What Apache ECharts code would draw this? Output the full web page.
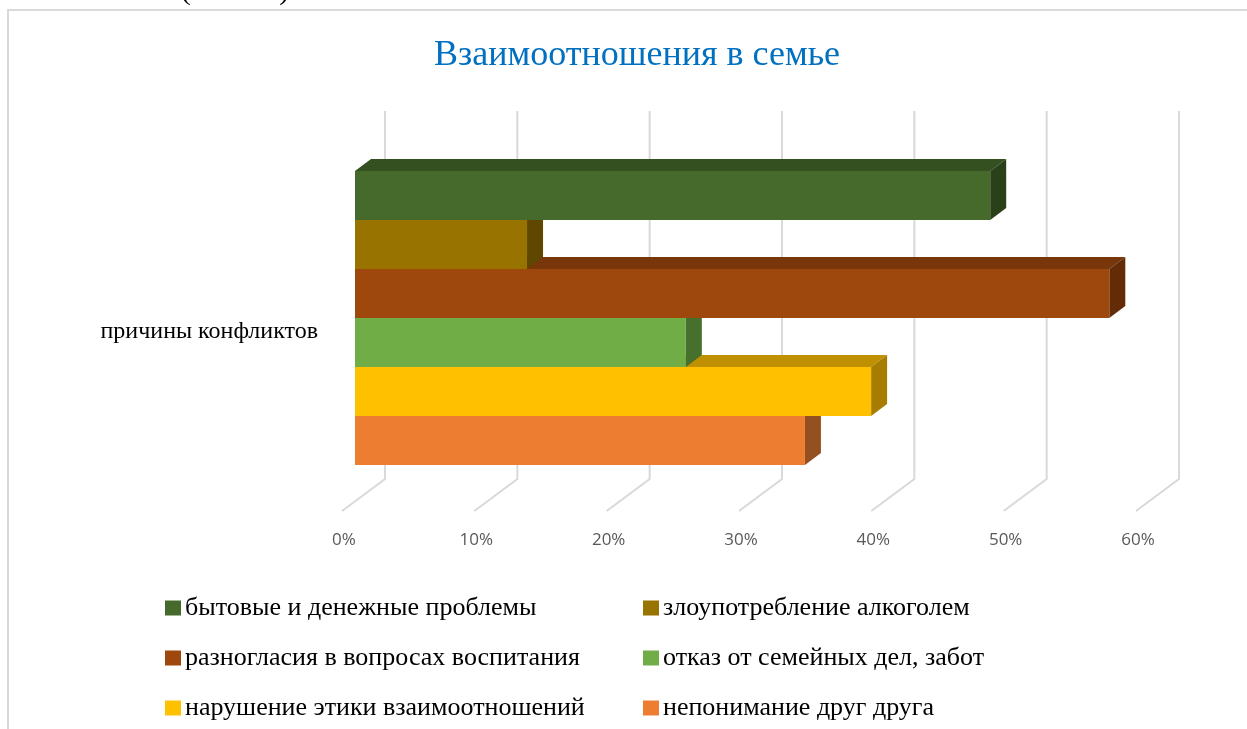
<!DOCTYPE html>
<html>
<head>
<meta charset="utf-8">
<title>Взаимоотношения в семье</title>
<style>
  html, body { margin: 0; padding: 0; background: #fff; overflow: hidden; }
  #chart { width: 1247px; height: 729px; }
</style>
<script src="https://cdn.jsdelivr.net/npm/echarts@6/dist/echarts.min.js"></script>
</head>
<body>
<div id="chart"></div>
<script>
const categories = ['причины конфликтов'];
const ticks = [0, 10, 20, 30, 40, 50, 60];

const seriesNames = [
  'бытовые и денежные проблемы',
  'злоупотребление алкоголем',
  'разногласия в вопросах воспитания',
  'отказ от семейных дел, забот',
  'нарушение этики взаимоотношений',
  'непонимание друг друга'
];
const seriesValues = [48, 13, 57, 25, 39, 34];

// front, top and side face of each bar
const frontColors = ['#466A2B', '#997300', '#9E480E', '#70AD47', '#FFC000', '#ED7D31'];
const topColors = ['#344F20', '#735600', '#78360B', '#548235', '#BF9000', '#B25E25'];
const sideColors = ['#2A4019', '#5F4700', '#632C06', '#47702C', '#A67D00', '#95501F'];

const serif = '"Liberation Serif", serif';

// 3D look, in pixels
const DEPTH_X = 16;
const DEPTH_Y = 12;
const BAR_H = 49;
const BARS_TOP = -161; // from the category centre down to the top of the first bar

const barSeries = seriesNames.map((name, i) => ({
  name: name,
  type: 'custom',
  coordinateSystem: 'cartesian2d',
  itemStyle: { color: frontColors[i] },
  encode: { x: 0, y: 1 },
  data: [[seriesValues[i], 0]],
  renderItem: (params, api) => {
    const zero = api.coord([0, api.value(1)]);
    const end = api.coord([api.value(0), api.value(1)]);
    const x0 = zero[0] + 11;
    const x1 = end[0] + 11;
    const y0 = zero[1] + BARS_TOP + i * BAR_H;
    const y1 = y0 + BAR_H;
    return {
      type: 'group',
      children: [
        {
          type: 'polygon',
          z2: 1,
          shape: { points: [[x0, y0], [x0 + DEPTH_X, y0 - DEPTH_Y], [x1 + DEPTH_X, y0 - DEPTH_Y], [x1, y0]] },
          style: { fill: topColors[i] }
        },
        {
          type: 'polygon',
          z2: 2,
          shape: { points: [[x1, y0], [x1 + DEPTH_X, y0 - DEPTH_Y], [x1 + DEPTH_X, y1 - DEPTH_Y], [x1, y1]] },
          style: { fill: sideColors[i] }
        },
        {
          type: 'rect',
          z2: 3,
          shape: { x: x0, y: y0, width: x1 - x0, height: BAR_H },
          style: { fill: frontColors[i] }
        }
      ]
    };
  }
}));

// back wall and floor lines
const wallSeries = {
  type: 'custom',
  coordinateSystem: 'cartesian2d',
  silent: true,
  z: 1,
  encode: { x: 0, y: 1 },
  data: ticks.map(t => [t, 0]),
  renderItem: (params, api) => {
    const p = api.coord([api.value(0), api.value(1)]);
    const x = p[0];
    const bottom = p[1] + 179;
    return {
      type: 'polyline',
      shape: { points: [[x + 41, p[1] - 221], [x + 41, bottom - 32], [x - 2, bottom]] },
      style: { fill: null, stroke: '#D9D9D9', lineWidth: 2 }
    };
  }
};

const legendCommon = {
  orient: 'vertical',
  top: 590,
  itemWidth: 16,
  itemHeight: 15,
  itemGap: 24,
  icon: 'rect',
  selectedMode: false,
  textStyle: { fontFamily: serif, fontSize: 26, color: '#000', padding: [0, 0, 0, -1], lineHeight: 24.5 }
};

const chart = echarts.init(document.getElementById('chart'));
chart.setOption({
  animation: false,
  backgroundColor: '#fff',
  title: {
    text: 'Взаимоотношения в семье',
    left: 632,
    textAlign: 'center',
    top: 33,
    textStyle: { fontFamily: serif, fontWeight: 'normal', fontSize: 36, color: '#0070C0' }
  },
  legend: [
    Object.assign({}, legendCommon, { left: 160, data: [seriesNames[0], seriesNames[2], seriesNames[4]] }),
    Object.assign({}, legendCommon, { left: 638, data: [seriesNames[1], seriesNames[3], seriesNames[5]] })
  ],
  grid: { left: 344, top: 153, width: 794, height: 358 },
  xAxis: {
    type: 'value',
    min: 0,
    max: 60,
    interval: 10,
    axisLine: { show: false },
    axisTick: { show: false },
    splitLine: { show: false },
    axisLabel: {
      formatter: '{value}%',
      margin: 21,
      fontFamily: '"Open Sans", sans-serif',
      fontSize: 17,
      color: '#595959'
    }
  },
  yAxis: {
    type: 'category',
    data: categories,
    axisLine: { show: false },
    axisTick: { show: false },
    axisLabel: { margin: 26, fontFamily: serif, fontSize: 24, color: '#000' }
  },
  graphic: [
    // tail of the document text above the chart, cut off by the crop
    {
      type: 'text',
      left: 10,
      top: -24,
      style: { text: 'заботам 25% (16 чел.).', font: '30px ' + serif, fill: '#000' }
    },
    {
      type: 'polyline',
      shape: { points: [[8, 729], [8, 10], [1247, 10]] },
      style: { fill: null, stroke: '#D9D9D9', lineWidth: 2 }
    }
  ],
  series: [wallSeries].concat(barSeries)
});
</script>
</body>
</html>
